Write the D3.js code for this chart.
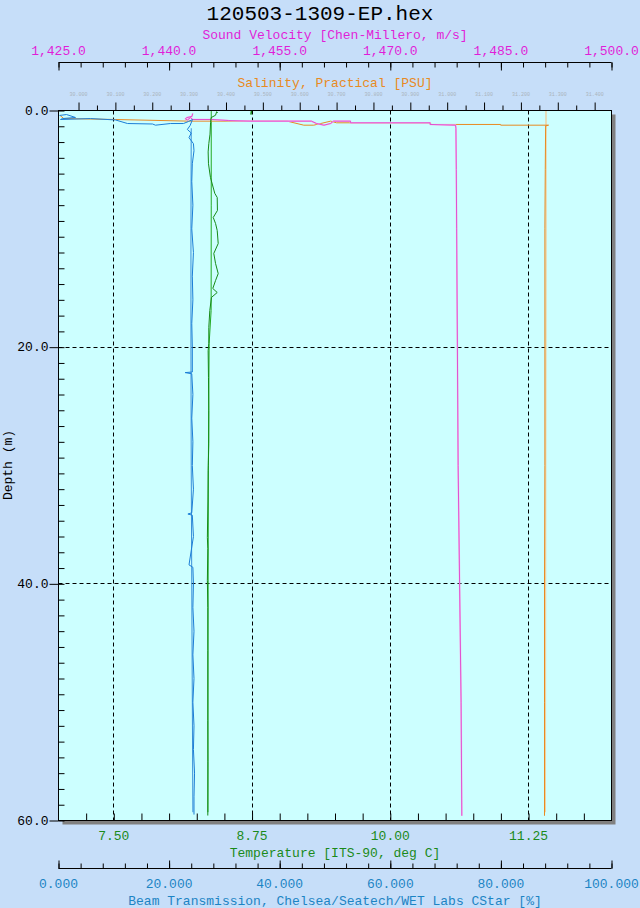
<!DOCTYPE html>
<html>
<head>
<meta charset="utf-8">
<script src="https://cdn.jsdelivr.net/npm/d3@7"></script>
<style>
  body { margin: 0; background: #c6def9; }
  text { font-family: "Liberation Mono", "Courier New", Courier, monospace; }
</style>
</head>
<body>
<div class="chart"></div>
<script>
// Data: each trace is a list of [depth (m), value]
var beamDown = [[0.42,0.18],[0.34,1.45],[0.59,3.07],[0.68,0.72],[0.76,0.36],[0.68,5.79],[0.80,10.31],[1.10,12.48],
  [1.14,17.0],[1.24,17.54],[1.10,20.25],[1.10,22.6],[0.93,23.5],[0.76,24.23],[1.27,23.8],[1.6,23.3],[1.9,24.0],
  [2.3,23.6],[2.8,24.4],[3.4,24.5],[4.5,24.2],[6,24.1],[8,24.3],[10,24.1],[12,24.4],[14,24.2],[16,24.3],[18,24.1],
  [20,24.2],[22.1,24.2],[22.15,22.9],[22.25,24.1],[24,24.3],[26,24.1],[28,24.3],[30,24.2],[32,24.4],[34.0,24.1],
  [34.1,23.4],[34.2,24.2],[36,24.4],[38.4,23.6],[38.6,24.3],[40,24.4],[42,24.3],[44,24.5],[46,24.3],[48,24.5],
  [50,24.3],[52,24.5],[54,24.4],[56,24.6],[58,24.5],[59.5,24.5]];
var beamUp = [[1.5,24.0],[10,23.95],[20,23.95],[30,24.0],[40,24.1],[50,24.2],[59.3,24.3]];

var tempSpot = [[0.0,8.745],[0.35,8.74]];
var tempDown = [[0.2,8.44],[0.1,8.43],[0.4,8.42],[0.6,8.38],[1.0,8.375],[2.0,8.37],[2.8,8.359],
  [3.5,8.353],[4.5,8.356],[5.66,8.374],[7.0,8.413],[7.35,8.435],[8.45,8.437],[9.04,8.399],[9.55,8.420],
  [10.14,8.435],[11.24,8.444],[12.08,8.404],[12.93,8.420],[13.78,8.444],[14.37,8.420],[15.04,8.395],
  [15.38,8.435],[15.80,8.383],[16.9,8.368],[18.34,8.359],[19.69,8.359],[20.3,8.353],[22.56,8.356],
  [25.35,8.359],[28.14,8.359],[30.42,8.353],[33,8.351],[36.09,8.346],[37,8.350],[39.72,8.346],[42,8.350],
  [45.63,8.350],[51.55,8.350],[55,8.351],[59.58,8.350]];
var tempUp = [[0.05,8.381],[8,8.381],[16.9,8.380],[19.7,8.362],[30,8.355],[45,8.352],[59.3,8.351]];

var svDown = [[0.25,1443.2],[0.5,1443.1],[0.6,1442.4],[0.7,1442.2],[0.8,1442.5],[0.6,1442.9],[0.76,1443.2],
  [0.76,1445.8],[0.85,1448.1],[0.90,1451.0],[0.90,1459.3],[1.10,1460.0],[1.24,1461.0],[1.10,1461.9],
  [0.90,1462.3],[0.90,1464.6],[1.04,1464.6],[1.04,1475.4],[1.18,1475.4],[1.24,1478.85],[1.5,1478.9],
  [5,1478.95],[10,1479.0],[20,1479.1],[30,1479.2],[40,1479.4],[50,1479.6],[59.6,1479.7]];

var salDown = [[0.42,29.95],[0.68,29.96],[0.76,30.10],[0.90,30.30],[0.90,30.566],[1.24,30.611],[1.24,30.638],
  [0.90,30.684],[1.04,30.70],[1.04,30.955],[1.18,30.955],[1.18,31.145],[1.24,31.145],[1.24,31.275],
  [1.3,31.267],[5,31.266],[10,31.265],[20,31.265],[30,31.265],[40,31.264],[50,31.264],[59.6,31.264]];
var salUp = [[0.0,31.268],[10,31.268],[30,31.267],[59.3,31.266]];

// Tick values
var svTicks = d3.range(0, 6).map(i => 1425 + i * 15);
var svMinor = d3.range(0, 26).map(i => 1425 + i * 3);
var salTicks = d3.range(0, 15).map(i => 30 + i * 0.1);
var salMinor = d3.range(0, 14).map(i => 30.05 + i * 0.1);
var tempTicks = [7.5, 8.75, 10, 11.25];
var tempMinor = d3.range(1, 20).map(i => 7 + i * 0.25);
var depthTicks = [0, 20, 40, 60];
var depthMinor = d3.range(0, 46).map(i => i * 4 / 3);
var beamTicks = [0, 20, 40, 60, 80, 100];
var beamMinor = d3.range(0, 26).map(i => i * 4);

var svgWidth = 640;
var svgHeight = 908;
var margin = {top: 110, right: 29, bottom: 88, left: 58};
var width = svgWidth - margin.left - margin.right;
var height = svgHeight - margin.top - margin.bottom;

var svColor = "#e01ed8", salColor = "#e88a22", tempColor = "#1a8a1a", beamColor = "#1c84c4";

var svg = d3.select(".chart")
  .append("svg")
  .attr("width", svgWidth)
  .attr("height", svgHeight);

var chartGroup = svg.append("g")
  .attr("transform", `translate(${margin.left + 0.5}, ${margin.top + 0.5})`);

// Scales
var depthScale = d3.scaleLinear().domain([0, 60]).range([0, height]);
var tempScale = d3.scaleLinear().domain([7, 12]).range([0, width]);
var svScale = d3.scaleLinear().domain([1425, 1500]).range([0, width]);
var salScale = d3.scaleLinear().domain([29.9457, 31.4457]).range([0, width]);
var beamScale = d3.scaleLinear().domain([0, 100]).range([0, width]);

// Title
svg.append("text")
  .attr("x", 320).attr("y", 20)
  .attr("text-anchor", "middle")
  .attr("font-size", "21px")
  .attr("fill", "#000")
  .text("120503-1309-EP.hex");

// Plot box with shadow
chartGroup.append("rect")
  .attr("x", 4).attr("y", 4).attr("width", width).attr("height", height)
  .attr("fill", "#808080");
chartGroup.append("rect")
  .attr("width", width).attr("height", height)
  .attr("fill", "#ccffff");

// Grid
chartGroup.selectAll(".vgrid").data(tempTicks).enter().append("line")
  .attr("x1", d => Math.round(tempScale(d))).attr("x2", d => Math.round(tempScale(d)))
  .attr("y1", 0).attr("y2", height)
  .attr("stroke", "#000").attr("stroke-dasharray", "4,3");
chartGroup.selectAll(".hgrid").data([20, 40]).enter().append("line")
  .attr("x1", 0).attr("x2", width)
  .attr("y1", d => Math.round(depthScale(d))).attr("y2", d => Math.round(depthScale(d)))
  .attr("stroke", "#000").attr("stroke-dasharray", "4,3");

// Traces
svg.append("clipPath").attr("id", "plotclip")
  .append("rect").attr("width", width).attr("height", height);
var traces = chartGroup.append("g").attr("clip-path", "url(#plotclip)");

function trace(data, xScale, color, w) {
  var line = d3.line().x(d => xScale(d[1])).y(d => depthScale(d[0]));
  traces.append("path")
    .datum(data)
    .attr("d", line)
    .attr("fill", "none")
    .attr("stroke", color)
    .attr("stroke-width", w || 1)
    .attr("stroke-linejoin", "round");
}
trace(salUp, salScale, "#ecd2a4", 1.5);
trace(tempUp, tempScale, "#22aa22");
trace(beamUp, beamScale, "#3a90d8");
trace(salDown, salScale, salColor);
trace(svDown, svScale, "#f6b8ea", 1.6);
trace(svDown, svScale, "#e050d0");
trace(tempSpot, tempScale, "#168a16", 1.5);
trace(tempDown, tempScale, "#168a16");
trace(beamDown, beamScale, "#1c7ed6");

// Plot border
chartGroup.append("rect")
  .attr("width", width).attr("height", height)
  .attr("fill", "none").attr("stroke", "#000");

function ticks(g, axis) {
  g.call(axis);
  g.selectAll("path.domain").remove();
  g.selectAll("text").remove();
  g.selectAll("line").attr("stroke", "#000");
}
function labels(g, values, scale, fmt, color, x, y, anchor) {
  g.selectAll(null).data(values).enter().append("text")
    .attr("x", d => x(scale(d))).attr("y", d => y(scale(d)))
    .attr("text-anchor", anchor || "middle")
    .attr("font-size", "13px")
    .attr("fill", color)
    .text(d => d3.format(fmt)(d));
}

// Sound velocity axis (top)
var svY = 62 - margin.top;
var svG = chartGroup.append("g").attr("transform", `translate(0, ${svY})`);
ticks(svG.append("g"), d3.axisBottom(svScale).tickValues(svMinor).tickSize(5));
ticks(svG.append("g"), d3.axisBottom(svScale).tickValues(svTicks).tickSize(8));
svG.append("line").attr("x1", 0).attr("x2", width).attr("stroke", "#000");
labels(svG, svTicks, svScale, ",.1f", svColor, x => x, () => -8);
svG.append("text").attr("x", width / 2).attr("y", -24)
  .attr("text-anchor", "middle").attr("font-size", "13px").attr("fill", svColor)
  .text("Sound Velocity [Chen-Millero, m/s]");

// Salinity axis (plot top)
ticks(chartGroup.append("g"), d3.axisTop(salScale).tickValues(salMinor).tickSize(5));
ticks(chartGroup.append("g"), d3.axisTop(salScale).tickValues(salTicks).tickSize(8));
chartGroup.selectAll(".sallab").data(salTicks).enter().append("text")
  .attr("x", d => salScale(d)).attr("y", -15)
  .attr("text-anchor", "middle").attr("font-size", "5px").attr("fill", "#aab4bc")
  .text(d => d3.format(".3f")(d));
chartGroup.append("text").attr("x", width / 2).attr("y", 86 - margin.top)
  .attr("text-anchor", "middle").attr("font-size", "13px").attr("fill", salColor)
  .text("Salinity, Practical [PSU]");

// Temperature axis (plot bottom, ticks inside)
var tG = chartGroup.append("g").attr("transform", `translate(0, ${height})`);
ticks(tG, d3.axisTop(tempScale).tickValues(tempMinor).tickSize(7));
labels(tG, tempTicks, tempScale, ".2f", tempColor, x => x, () => 19);
tG.append("text").attr("x", width / 2).attr("y", 36)
  .attr("text-anchor", "middle").attr("font-size", "13px").attr("fill", tempColor)
  .text("Temperature [ITS-90, deg C]");

// Depth axis (left)
ticks(chartGroup.append("g"), d3.axisRight(depthScale).tickValues(depthMinor).tickSize(6));
ticks(chartGroup.append("g"), d3.axisLeft(depthScale).tickValues(depthTicks).tickSize(9));
labels(chartGroup, depthTicks, depthScale, ".1f", "#000", () => -10, y => y + 4, "end");
svg.append("text")
  .attr("transform", `translate(12, ${margin.top + height / 2}) rotate(-90)`)
  .attr("text-anchor", "middle").attr("font-size", "13px").attr("fill", "#000")
  .text("Depth (m)");

// Beam transmission axis (bottom)
var bG = chartGroup.append("g").attr("transform", `translate(0, ${868 - margin.top})`);
ticks(bG.append("g"), d3.axisTop(beamScale).tickValues(beamMinor).tickSize(5));
ticks(bG.append("g"), d3.axisTop(beamScale).tickValues(beamTicks).tickSize(8));
bG.append("line").attr("x1", 0).attr("x2", width).attr("stroke", "#000");
labels(bG, beamTicks, beamScale, ".3f", beamColor, x => x, () => 19);
bG.append("text").attr("x", width / 2).attr("y", 36)
  .attr("text-anchor", "middle").attr("font-size", "13px").attr("fill", beamColor)
  .text("Beam Transmission, Chelsea/Seatech/WET Labs CStar [%]");
</script>
</body>
</html>
